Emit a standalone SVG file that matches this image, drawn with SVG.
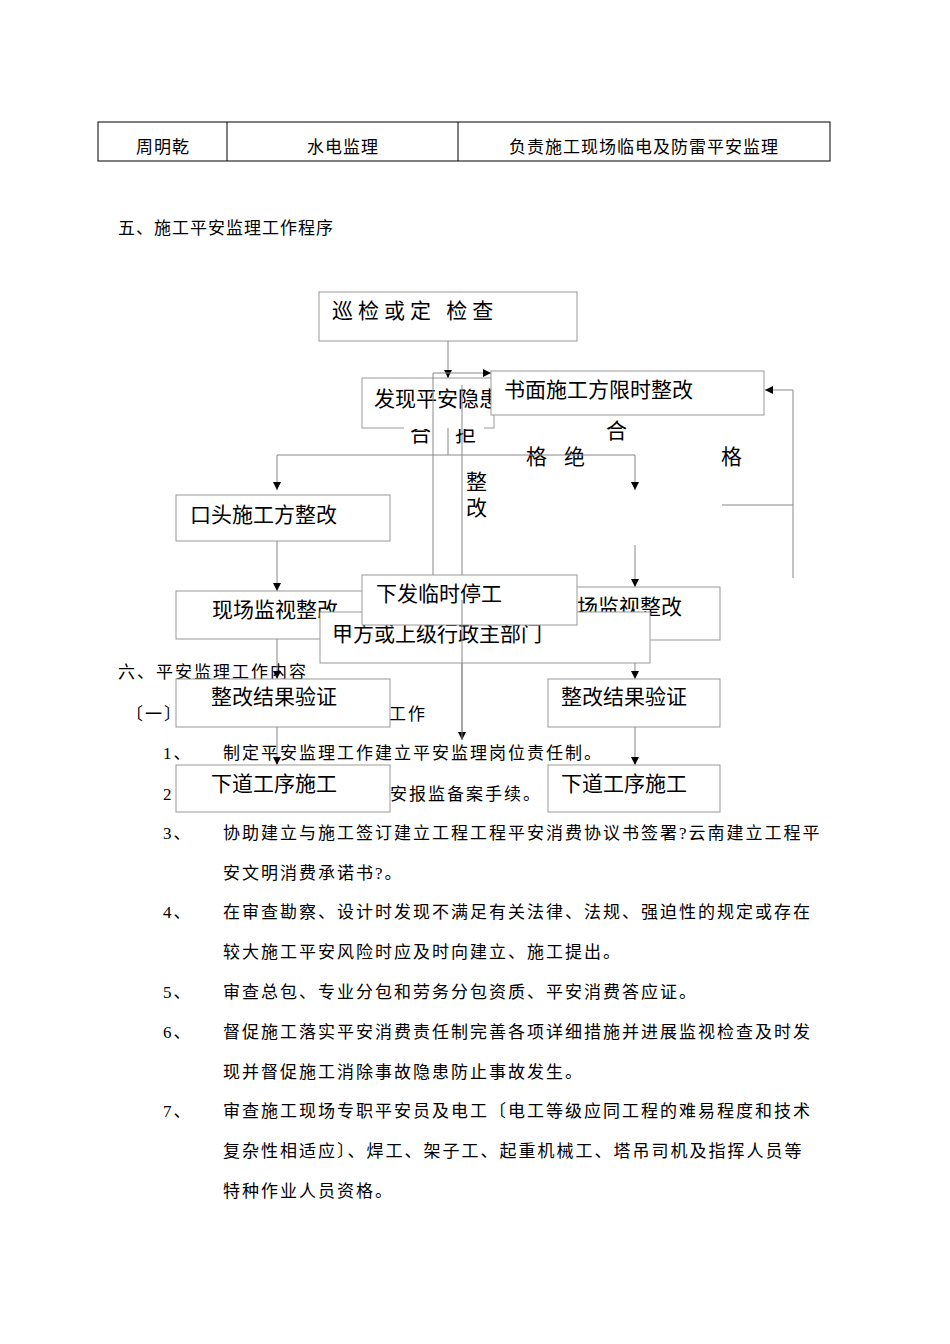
<svg xmlns="http://www.w3.org/2000/svg" width="950" height="1344" viewBox="0 0 950 1344">
<style>
text{font-family:"Liberation Serif","Noto Sans CJK SC",serif;fill:#000}
.t{font-size:17px}.f{font-size:21px}
#body text{letter-spacing:2px}
.b{fill:#fff;stroke:#999;stroke-width:1}
.c{stroke:#888;stroke-width:1;fill:none}
.tb{fill:none;stroke:#000;stroke-width:1}
</style>
<defs><marker id="a" viewBox="0 0 10 10" refX="10" refY="5" markerWidth="8" markerHeight="8" orient="auto" markerUnits="userSpaceOnUse"><path d="M0,0L10,5L0,10z" fill="#000"/></marker></defs>
<rect width="950" height="1344" fill="#fff"/>
<g id="table">
<rect class="tb" x="98" y="122" width="732" height="39"/>
<line class="tb" x1="227" y1="122" x2="227" y2="161"/><line class="tb" x1="458" y1="122" x2="458" y2="161"/>
<text class="t" x="163" y="153" text-anchor="middle" letter-spacing="1">周明乾</text>
<text class="t" x="343" y="153" text-anchor="middle" letter-spacing="1">水电监理</text>
<text class="t" x="644" y="153" text-anchor="middle" letter-spacing="1">负责施工现场临电及防雷平安监理</text>
</g>
<text class="t" x="118" y="234" letter-spacing="1">五、施工平安监理工作程序</text>
<g id="body" class="t">
<text x="118" y="678">六、平安监理工作内容</text>
<text x="126" y="720">〔一〕</text><text x="370" y="720">理工作</text>
<text x="163" y="759">1、</text><text x="223" y="759">制定平安监理工作建立平安监理岗位责任制。</text>
<text x="163" y="800">2</text><text x="390" y="800">安报监备案手续。</text>
<text x="163" y="839">3、</text><text x="223" y="839">协助建立与施工签订建立工程工程平安消费协议书签署?云南建立工程平</text>
<text x="223" y="879">安文明消费承诺书?。</text>
<text x="163" y="918">4、</text><text x="223" y="918">在审查勘察、设计时发现不满足有关法律、法规、强迫性的规定或存在</text>
<text x="223" y="958">较大施工平安风险时应及时向建立、施工提出。</text>
<text x="163" y="998">5、</text><text x="223" y="998">审查总包、专业分包和劳务分包资质、平安消费答应证。</text>
<text x="163" y="1038">6、</text><text x="223" y="1038">督促施工落实平安消费责任制完善各项详细措施并进展监视检查及时发</text>
<text x="223" y="1078">现并督促施工消除事故隐患防止事故发生。</text>
<text x="163" y="1117">7、</text><text x="223" y="1117">审查施工现场专职平安员及电工〔电工等级应同工程的难易程度和技术</text>
<text x="223" y="1157">复杂性相适应〕、焊工、架子工、起重机械工、塔吊司机及指挥人员等</text>
<text x="223" y="1197">特种作业人员资格。</text>
</g>
<g id="n1"><rect class="b" x="319" y="292" width="258" height="49"/><text class="f" x="332" y="318" letter-spacing="5">巡检或定 检查</text></g>
<g id="n2"><rect class="b" x="362" y="378" width="132" height="50"/><text class="f" x="374" y="406">发现平安隐患</text></g>
<g id="labels" class="f">
<text x="410" y="441">合</text><text x="455" y="441">拒</text>
<text x="526" y="464">格</text><text x="564" y="464">绝</text>
<text x="606" y="438">合</text><text x="721" y="464">格</text>
<text x="466" y="489">整</text><text x="466" y="515">改</text>
</g>
<rect x="404" y="416" width="80" height="13" fill="#fff"/>
<g id="connectors">
<line class="c" x1="448" y1="341" x2="448" y2="378" marker-end="url(#a)"/>
<line class="c" x1="433" y1="373" x2="491" y2="373" marker-end="url(#a)"/>
<line class="c" x1="433" y1="373" x2="433" y2="576"/>
<line class="c" x1="462" y1="385" x2="462" y2="740" marker-end="url(#a)"/>
<line class="c" x1="448" y1="428" x2="448" y2="455"/>
<line class="c" x1="277" y1="455" x2="635" y2="455"/>
<line class="c" x1="277" y1="455" x2="277" y2="490" marker-end="url(#a)"/>
<line class="c" x1="635" y1="455" x2="635" y2="490" marker-end="url(#a)"/>
<line class="c" x1="722" y1="505" x2="793" y2="505"/>
<polyline class="c" points="793,578 793,390 765,390" marker-end="url(#a)"/>
<line class="c" x1="277" y1="541" x2="277" y2="591" marker-end="url(#a)"/>
<line class="c" x1="635" y1="545" x2="635" y2="587" marker-end="url(#a)"/>
<line class="c" x1="277" y1="639" x2="277" y2="679" marker-end="url(#a)"/>
<line class="c" x1="635" y1="640" x2="635" y2="679" marker-end="url(#a)"/>
<line class="c" x1="277" y1="727" x2="277" y2="765" marker-end="url(#a)"/>
<line class="c" x1="635" y1="727" x2="635" y2="765" marker-end="url(#a)"/>
</g>
<g id="n3"><rect class="b" x="491" y="371" width="273" height="44"/><text class="f" x="504" y="397">书面施工方限时整改</text></g>
<g id="n4"><rect class="b" x="176" y="495" width="214" height="46"/><text class="f" x="190" y="522">口头施工方整改</text></g>
<g id="n5"><rect class="b" x="176" y="591" width="214" height="48"/><text class="f" x="212" y="617">现场监视整改</text></g>
<g id="n7"><rect class="b" x="548" y="587" width="172" height="53"/><text class="f" x="556" y="614">现场监视整改</text></g>
<g id="n8"><rect class="b" x="320" y="612" width="330" height="51"/><text class="f" x="332" y="641">甲方或上级行政主部门</text></g>
<g id="n6"><rect class="b" x="362" y="575" width="215" height="50"/><text class="f" x="376" y="601">下发临时停工</text></g>
<line class="c" x1="462" y1="600" x2="462" y2="740"/>
<g id="n9"><rect class="b" x="176" y="679" width="214" height="48"/><text class="f" x="211" y="704">整改结果验证</text></g>
<g id="n10"><rect class="b" x="548" y="679" width="172" height="48"/><text class="f" x="561" y="704">整改结果验证</text></g>
<g id="n11"><rect class="b" x="176" y="765" width="214" height="47"/><text class="f" x="211" y="791">下道工序施工</text></g>
<g id="n12"><rect class="b" x="548" y="765" width="172" height="47"/><text class="f" x="561" y="791">下道工序施工</text></g>
</svg>
